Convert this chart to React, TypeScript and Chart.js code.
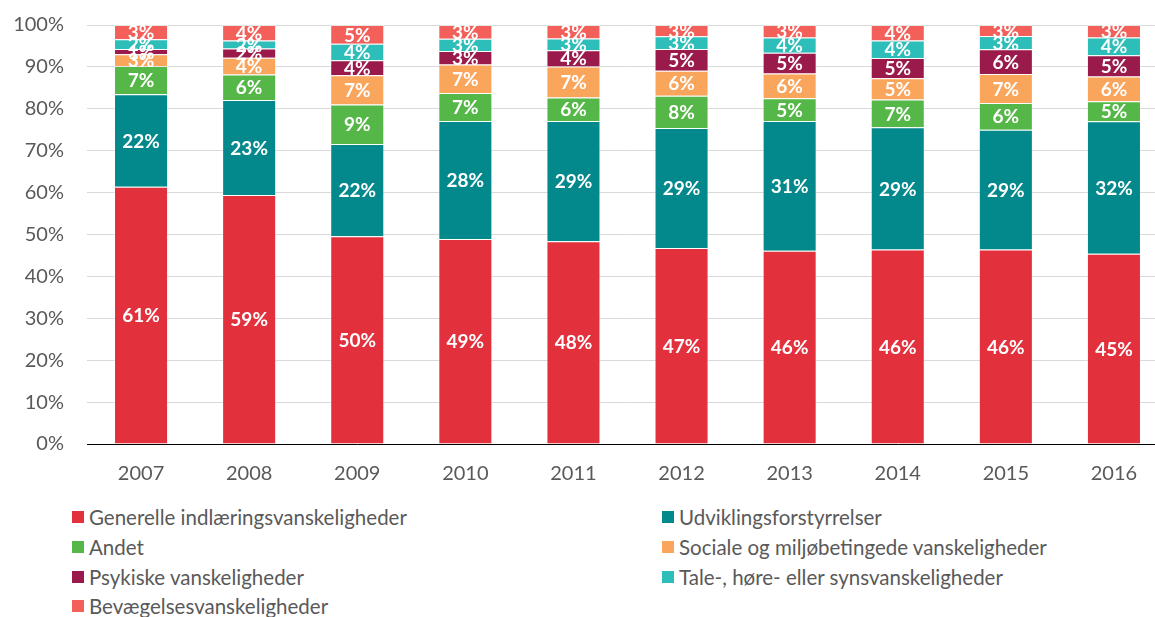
import React, { useEffect, useRef } from "react";
import { Chart, registerables } from "chart.js";

Chart.register(...registerables);

const years = ["2007", "2008", "2009", "2010", "2011", "2012", "2013", "2014", "2015", "2016"];
const seriesNames = [
  "Generelle indlæringsvanskeligheder",
  "Udviklingsforstyrrelser",
  "Andet",
  "Sociale og miljøbetingede vanskeligheder",
  "Psykiske vanskeligheder",
  "Tale-, høre- eller synsvanskeligheder",
  "Bevægelsesvanskeligheder",
];
const generelle = [61.4, 59.4, 49.6, 48.9, 48.4, 46.8, 46.1, 46.4, 46.4, 45.4];
const udvikling = [22.1, 22.7, 22.0, 28.2, 28.7, 28.6, 31.0, 29.2, 28.6, 31.6];
const andet = [6.7, 6.1, 9.4, 6.7, 5.6, 7.7, 5.4, 6.6, 6.4, 4.8];
const sociale = [2.8, 4.0, 7.0, 6.8, 7.4, 6.0, 5.9, 5.1, 6.9, 5.9];
const psykiske = [1.3, 2.2, 3.6, 3.2, 3.9, 5.2, 5.0, 4.8, 5.9, 5.1];
const tale = [2.3, 1.9, 3.9, 2.9, 2.8, 3.0, 3.6, 4.2, 3.2, 4.2];
const bevaegelse = [3.4, 3.7, 4.5, 3.3, 3.2, 2.7, 3.0, 3.7, 2.6, 3.0];
const seriesValues = [generelle, udvikling, andet, sociale, psykiske, tale, bevaegelse];
const colors = ["#E3303D", "#03898B", "#55B748", "#F9A55B", "#991A4B", "#2DBEBA", "#F3605A"];

const FONT = "Lato, 'Open Sans', sans-serif";

const labelPlugin = {
  id: "barLabels",
  afterDatasetsDraw(chart: any) {
    const ctx = chart.ctx;
    ctx.save();
    ctx.fillStyle = "#FFFFFF";
    ctx.font = `bold 19px ${FONT}`;
    ctx.textAlign = "center";
    ctx.textBaseline = "middle";
    chart.data.datasets.forEach((ds: any, i: number) => {
      const meta = chart.getDatasetMeta(i);
      meta.data.forEach((bar: any, j: number) => {
        const v = ds.data[j];
        const y = (bar.y + bar.base) / 2;
        ctx.fillText(`${Math.round(v)}%`, bar.x, y + 1);
      });
    });
    ctx.restore();
  },
};

export default function App() {
  const ref = useRef<HTMLCanvasElement>(null);
  useEffect(() => {
    if (!ref.current) return;
    const chart = new Chart(ref.current, {
      type: "bar",
      data: {
        labels: years,
        datasets: seriesNames.map((name, i) => ({
          label: name,
          data: seriesValues[i],
          backgroundColor: colors[i],
          borderColor: "rgba(255,255,255,0.35)",
          borderWidth: 1,
          categoryPercentage: 1,
          barPercentage: 0.5,
        })),
      },
      options: {
        responsive: false,
        animation: false,
        layout: { padding: { top: 15, right: 0, left: 0, bottom: 0 } },
        plugins: { legend: { display: false }, tooltip: { enabled: false } },
        scales: {
          x: {
            stacked: true,
            grid: { display: false },
            border: { display: true, color: "#000000", width: 1 },
            ticks: { color: "#595959", font: { family: FONT, size: 20 }, padding: 10 },
            afterFit: (s: any) => {
              s.height = 56;
            },
          },
          y: {
            stacked: true,
            min: 0,
            max: 100,
            grid: { color: "#D9D9D9", drawTicks: false },
            border: { display: false },
            ticks: {
              stepSize: 10,
              color: "#595959",
              font: { family: FONT, size: 20 },
              padding: 23,
              callback: (v: any) => `${v}%`,
            },
            afterFit: (s: any) => {
              s.width = 87;
            },
          },
        },
      },
      plugins: [labelPlugin],
    });
    return () => chart.destroy();
  }, []);

  const legendRows = [
    [0, 1],
    [2, 3],
    [4, 5],
    [6],
  ];
  const rowY = [517, 547, 577, 606];
  const colX = [72, 662];

  return (
    <div style={{ position: "fixed", left: 0, top: 0, width: 1155, height: 617, overflow: "hidden", background: "#fff" }}>
      <canvas ref={ref} width={1168} height={510} style={{ position: "absolute", left: 0, top: -10, width: 1168, height: 510 }} />
      {legendRows.map((row, r) =>
        row.map((si, c) => (
          <div
            key={si}
            style={{
              position: "absolute",
              left: colX[c],
              top: rowY[r] - 14,
              height: 28,
              display: "flex",
              alignItems: "center",
              fontFamily: FONT,
              fontSize: 20.5,
              color: "#595959",
              whiteSpace: "nowrap",
            }}
          >
            <span style={{ display: "inline-block", width: 12, height: 12, background: colors[si], marginRight: 5 }} />
            <span>{seriesNames[si]}</span>
          </div>
        ))
      )}
    </div>
  );
}
